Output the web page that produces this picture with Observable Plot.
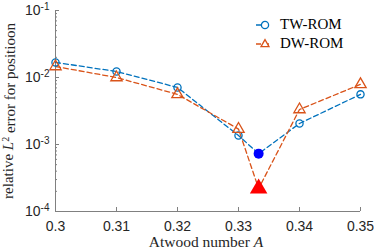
<!DOCTYPE html>
<html><head><meta charset="utf-8">
<script src="https://cdn.jsdelivr.net/npm/d3@7"></script>
<script src="https://cdn.jsdelivr.net/npm/@observablehq/plot@0.6"></script>
<style>
body{margin:0;background:#fff}
#c{position:relative;width:374px;height:250px}
#legend{position:absolute;left:256px;top:15px;font-family:"Liberation Serif","DejaVu Serif",serif;font-size:15px;color:#000}
#legend .row{display:flex;align-items:center;height:19px}
#legend svg{margin-right:8px}
</style>
</head><body><div id="c"><div id="legend"></div></div>
<script>
const atwood = [0.30, 0.31, 0.32, 0.33, 0.3333, 0.34, 0.35];
const twRom  = [0.0168, 0.0123, 0.0071, 0.00136, 0.00073, 0.00206, 0.0056];
const dwRom  = [0.0146, 0.0100, 0.0056, 0.0017, 0.00022, 0.00333, 0.0079];
const special = [false, false, false, false, true, false, false];
const xTicks = [0.30, 0.31, 0.32, 0.33, 0.34, 0.35];
const yTicks = [1e-4, 1e-3, 1e-2, 1e-1];
const seriesNames = ["TW-ROM", "DW-ROM"];

const blue = "#0072BD", orange = "#D95319";
const rows = atwood.map((a, i) => ({a, tw: twRom[i], dw: dwRom[i], special: special[i]}));
const minor = [];
for (let e = -4; e < -1; e++) for (let k = 2; k <= 9; k++) minor.push(k * Math.pow(10, e));

const axisColor = "#808080";
const plot = Plot.plot({
  width: 374, height: 250,
  marginLeft: 55, marginRight: 14, marginTop: 10, marginBottom: 39,
  style: {fontFamily: "Liberation Sans, Arial, sans-serif", fontSize: "14px", background: "white", color: "#262626", overflow: "visible"},
  x: {domain: [0.3, 0.35]},
  y: {type: "log", domain: [1e-4, 1e-1]},
  marks: [
    Plot.ruleY([1e-4], {stroke: axisColor}),
    Plot.ruleX([0.3], {stroke: axisColor}),
    Plot.axisX(xTicks, {tickSize: -4, stroke: axisColor, tickPadding: 14, tickFormat: d => String(+d.toFixed(2)), label: null}),
    Plot.axisY(yTicks, {tickSize: -4, stroke: axisColor, tickPadding: 10, tickFormat: d => "10", label: null}),
    Plot.axisY(minor, {tickSize: -2, stroke: axisColor, text: null, label: null}),
    Plot.line(rows, {x: "a", y: "tw", stroke: blue, strokeWidth: 1.3, strokeDasharray: "5,3"}),
    Plot.line(rows, {x: "a", y: "dw", stroke: orange, strokeWidth: 1.3, strokeDasharray: "5,3"}),
    Plot.dot(rows.filter(d => !d.special), {x: "a", y: "tw", r: 3.6, stroke: blue, strokeWidth: 1.3, fill: "none"}),
    Plot.dot(rows.filter(d => !d.special), {x: "a", y: "dw", r: 4.2, symbol: "triangle", stroke: orange, strokeWidth: 1.3, fill: "none"}),
    Plot.dot(rows.filter(d => d.special), {x: "a", y: "tw", r: 5, fill: "#0000ff"}),
    Plot.dot(rows.filter(d => d.special), {x: "a", y: "dw", r: 6.5, symbol: "triangle", fill: "#ff0000"})
  ]
});
document.getElementById("c").prepend(plot);

// superscript exponents on y tick labels
const svg = d3.select(plot);
svg.selectAll('g[aria-label="y-axis tick label"] text').filter(function() { return this.textContent === "10"; }).each(function(d, i) {
  const t = d3.select(this);
  const v = yTicks[i];
  t.text("10");
  t.append("tspan").attr("dy", "-0.5em").attr("font-size", "10px").text(String(Math.round(Math.log10(v))));
});

// axis labels
const serif = "Liberation Serif, DejaVu Serif, serif";
const yl = svg.append("text").attr("transform", "translate(13,111) rotate(-90)")
  .attr("text-anchor", "middle").attr("font-family", serif).attr("font-size", "15px").attr("fill", "#262626");
yl.append("tspan").text("relative ");
yl.append("tspan").attr("font-style", "italic").text("L");
yl.append("tspan").attr("dy", "-0.45em").attr("font-size", "10px").text("2");
yl.append("tspan").attr("dy", "0.45em").text(" error for positioon");

const xl = svg.append("text").attr("x", 206).attr("y", 247)
  .attr("text-anchor", "middle").attr("font-family", serif).attr("font-size", "15.5px").attr("fill", "#262626");
xl.append("tspan").text("Atwood number ");
xl.append("tspan").attr("font-style", "italic").text("A");

// legend
const leg = document.getElementById("legend");
const legendIcons = [
  `<svg width="16" height="12"><line x1="0" y1="6" x2="16" y2="6" stroke="${blue}" stroke-width="1.3" stroke-dasharray="5,3"/><circle cx="9" cy="6" r="3.6" fill="white" stroke="${blue}" stroke-width="1.3"/></svg>`,
  `<svg width="16" height="12"><line x1="0" y1="6" x2="16" y2="6" stroke="${orange}" stroke-width="1.3" stroke-dasharray="5,3"/><path d="M9,1.6L13,8.6L5,8.6Z" fill="white" stroke="${orange}" stroke-width="1.3"/></svg>`
];
seriesNames.forEach((n, i) => {
  const r = document.createElement("div");
  r.className = "row";
  r.innerHTML = legendIcons[i] + `<span>${n}</span>`;
  leg.appendChild(r);
});
</script>
</body></html>
